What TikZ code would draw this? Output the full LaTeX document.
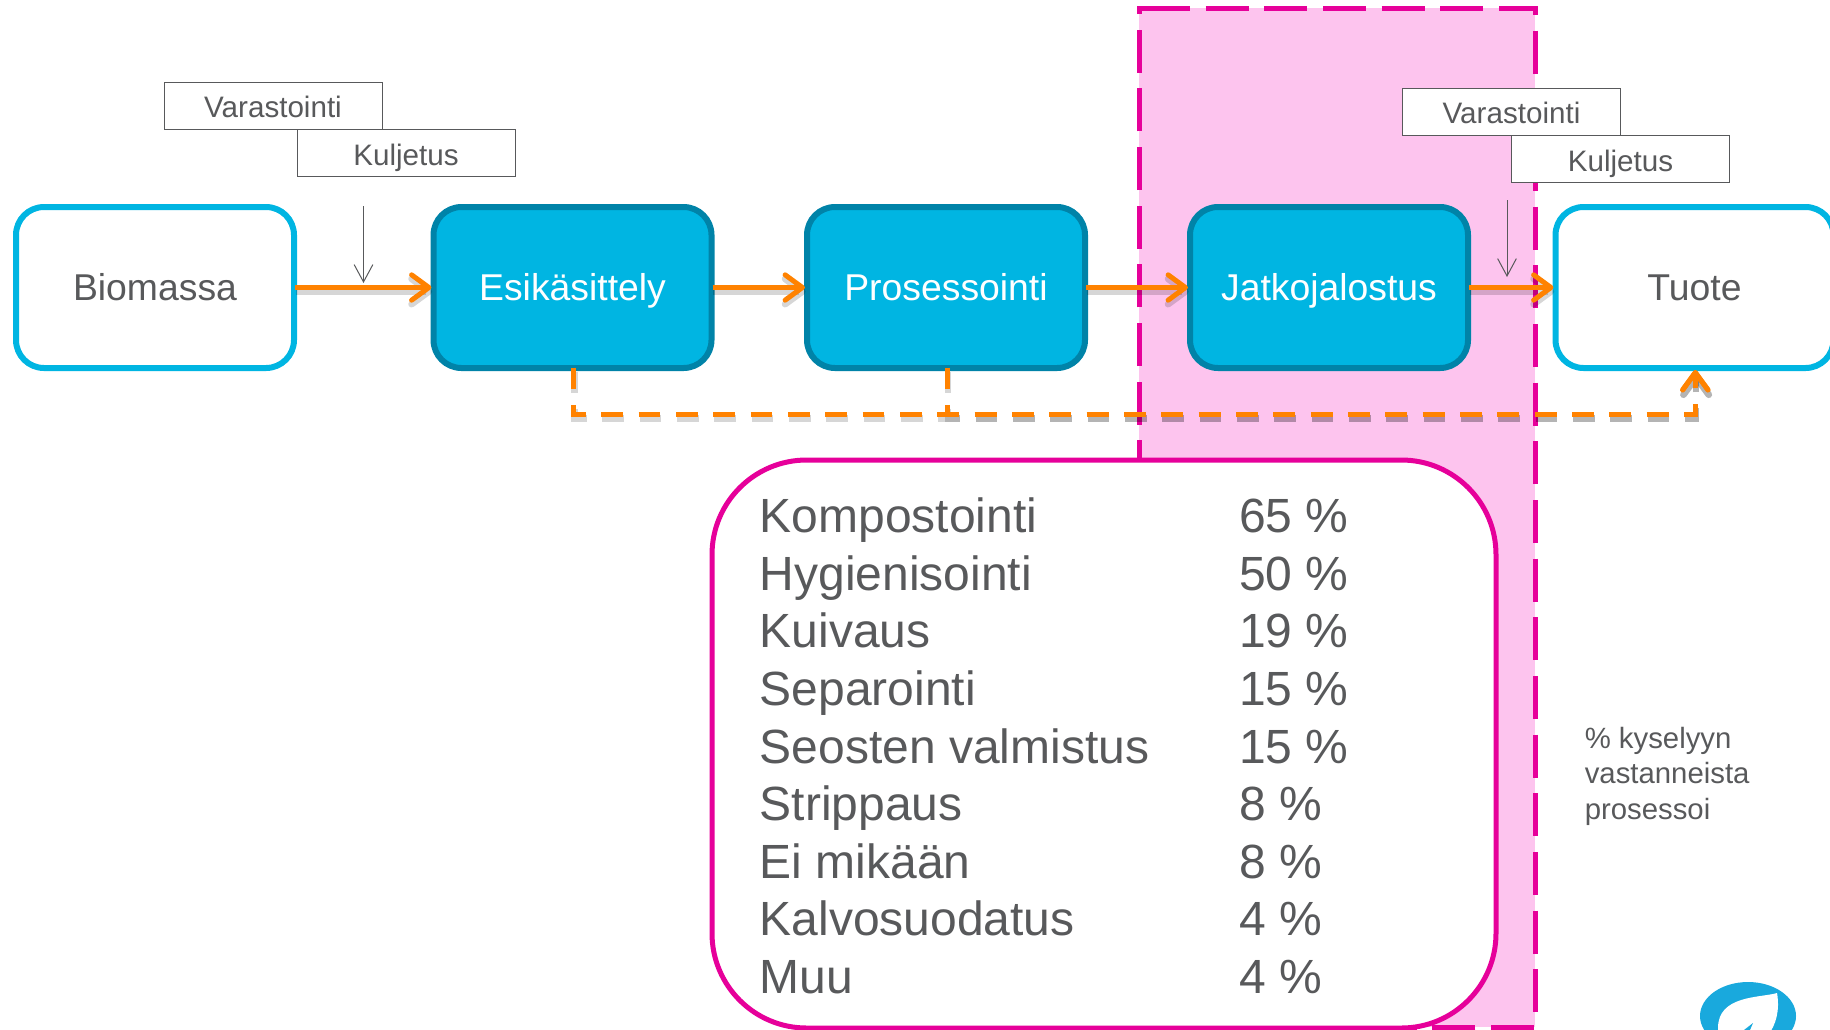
\documentclass[tikz,border=0pt]{standalone}
\usepackage{amsmath}
\usepackage{fontspec}
\setmainfont{Liberation Sans}
\usepackage{tikz}
\usetikzlibrary{arrows.meta}
\tikzset{
  stagebox/.style={draw={rgb, 255:red, 0; green, 131; blue, 168 },fill={rgb, 255:red, 0; green, 181; blue, 226 },text=white,line width=4.5pt,rounded corners=21pt,minimum width=208.5pt,minimum height=120.75pt,inner sep=0pt,text height=24pt,text depth=3.8pt,font=\fontsize{28}{34}\selectfont},
  endbox/.style={stagebox,draw={rgb, 255:red, 0; green, 181; blue, 226 },fill=white,text={rgb, 255:red, 88; green, 89; blue, 91 }},
  labelbox/.style={draw={rgb, 255:red, 88; green, 89; blue, 91 },fill=white,text={rgb, 255:red, 88; green, 89; blue, 91 },line width=0.75pt,minimum width=163.5pt,minimum height=35.25pt,inner sep=0pt,text height=20.3pt,text depth=1.8pt,font=\fontsize{22.2}{26}\selectfont},
  rowtext/.style={anchor=base west,inner sep=0pt,text={rgb, 255:red, 88; green, 89; blue, 91 },font=\fontsize{36}{42}\selectfont},
  flowarrow/.style={color={rgb, 255:red, 255; green, 130; blue, 0 },line width=3.75pt,shorten <=-1.5pt,shorten >=-0.7pt,-{Straight Barb[length=13pt,width=19pt,round]}},
  returnarrow/.style={flowarrow,dash pattern=on 16.3pt off 11.7pt,shorten <=-2.6pt},
  flowshadow/.style={color=black,opacity=0.16,line width=5pt,transform canvas={shift={(0.6pt,-3pt)}}},
  downarrow/.style={color={rgb, 255:red, 88; green, 89; blue, 91 },line width=0.75pt,-{Straight Barb[length=13pt,width=14pt]}},
}

\begin{document}
\begin{tikzpicture}[x=0.75pt,y=0.75pt,yscale=-1,xscale=1]
\clip (0,0) rectangle (1830,1029);

%Shape: Pink band
\fill [fill={rgb, 255:red, 253; green, 196; blue, 238 }] (1139,8) rectangle (1535,1027);
\draw [color={rgb, 255:red, 230; green, 0; blue, 154 },line width=3.75pt,dash pattern=on 32.2pt off 11.8pt] (1147,8) -- (1535,8) -- (1535,1027) -- (1139,1027) -- (1139,8) -- (1147,8);

%Shape: Rounded Rect
\node [stagebox,endbox] (biomassa) at (155,287.5) {Biomassa};
\node [stagebox] (esikasittely) at (572.5,287.5) {Esikäsittely};
\node [stagebox] (prosessointi) at (946,287.5) {Prosessointi};
\node [stagebox] (jatkojalostus) at (1329,287.5) {Jatkojalostus};
\node [stagebox,endbox] (tuote) at (1694.5,287.5) {Tuote};

%Shape: Rectangle
\node [labelbox] (varastointiA) at (273,105.5) {Varastointi};
\node [labelbox] (kuljetusA) at (406,153) {Kuljetus};
\node [labelbox] (varastointiB) at (1511.5,111.5) {Varastointi};
\node [labelbox] (kuljetusB) at (1620.5,159) {Kuljetus};

%Straight Lines
\draw [flowarrow,flowshadow] (biomassa.east) -- (esikasittely.west);
\draw [flowarrow,flowshadow] (esikasittely.east) -- (prosessointi.west);
\draw [flowarrow,flowshadow] (prosessointi.east) -- (jatkojalostus.west);
\draw [flowarrow,flowshadow] (jatkojalostus.east) -- (tuote.west);
\draw [flowarrow] (biomassa.east) -- (esikasittely.west);
\draw [flowarrow] (esikasittely.east) -- (prosessointi.west);
\draw [flowarrow] (prosessointi.east) -- (jatkojalostus.west);
\draw [flowarrow] (jatkojalostus.east) -- (tuote.west);

%Dashed return lines
\draw [returnarrow,flowshadow] ([xshift=0.9pt]esikasittely.south) -- ++(0,43.5) -| ([xshift=0.6pt]tuote.south);
\draw [returnarrow,flowshadow] ([xshift=0.9pt]prosessointi.south) -- ++(0,43.5) -| ([xshift=0.6pt]tuote.south);
\draw [returnarrow] ([xshift=0.9pt]esikasittely.south) -- ++(0,43.5) -| ([xshift=0.6pt]tuote.south);
\draw [returnarrow] ([xshift=0.9pt]prosessointi.south) -- ++(0,43.5) -| ([xshift=0.6pt]tuote.south);

%Thin arrows
\coordinate (inA) at (363.5,206);
\coordinate (outA) at (363.5,283);
\coordinate (inB) at (1507,200);
\coordinate (outB) at (1507,277);
\draw [downarrow] (inA) -- (outA);
\draw [downarrow] (inB) -- (outB);

%Shape: Rounded Rect
\node [draw={rgb, 255:red, 230; green, 0; blue, 154 },fill=white,line width=3.75pt,rounded corners=71pt,minimum width=588pt,minimum height=426pt,inner sep=0pt] (tablebox) at (1104,744) {};

%Table rows
\node [rowtext] (rowA) at (759.5,532.7) {Kompostointi};
\node [rowtext] (valA) at (1239,532.7) {65 \%};
\node [rowtext] (rowB) at (759.5,590.3) {Hygienisointi};
\node [rowtext] (valB) at (1239,590.3) {50 \%};
\node [rowtext] (rowC) at (759.5,647.9) {Kuivaus};
\node [rowtext] (valC) at (1239,647.9) {19 \%};
\node [rowtext] (rowD) at (759.5,705.5) {Separointi};
\node [rowtext] (valD) at (1239,705.5) {15 \%};
\node [rowtext] (rowE) at (759.5,763.1) {Seosten valmistus};
\node [rowtext] (valE) at (1239,763.1) {15 \%};
\node [rowtext] (rowF) at (759.5,820.7) {Strippaus};
\node [rowtext] (valF) at (1239,820.7) {8 \%};
\node [rowtext] (rowG) at (759.5,878.3) {Ei mikään};
\node [rowtext] (valG) at (1239,878.3) {8 \%};
\node [rowtext] (rowH) at (759.5,935.9) {Kalvosuodatus};
\node [rowtext] (valH) at (1239,935.9) {4 \%};
\node [rowtext] (rowI) at (759.5,993.5) {Muu};
\node [rowtext] (valI) at (1239,993.5) {4 \%};

%Side note
\node [anchor=north west,inner sep=0pt,align=left,text={rgb, 255:red, 88; green, 89; blue, 91 },font=\fontsize{22}{26.7}\selectfont] (notetext) at (1584.5,726.7) {\% kyselyyn\\vastanneista\\prosessoi};

%Shape: Leaf logo
\fill [fill={rgb, 255:red, 25; green, 169; blue, 221 }] (1748,1016) ellipse (48 and 34);
\fill [fill=white] (1777,993) .. controls (1760,998) and (1718,995) .. (1718,1028) -- (1718,1035) -- (1768,1035) .. controls (1776,1025) and (1780,1010) .. (1777,993) -- cycle;
\fill [fill={rgb, 255:red, 25; green, 169; blue, 221 }] (1753,1023) -- (1744,1030) -- (1750,1030) -- cycle;

\end{tikzpicture}
\end{document}
